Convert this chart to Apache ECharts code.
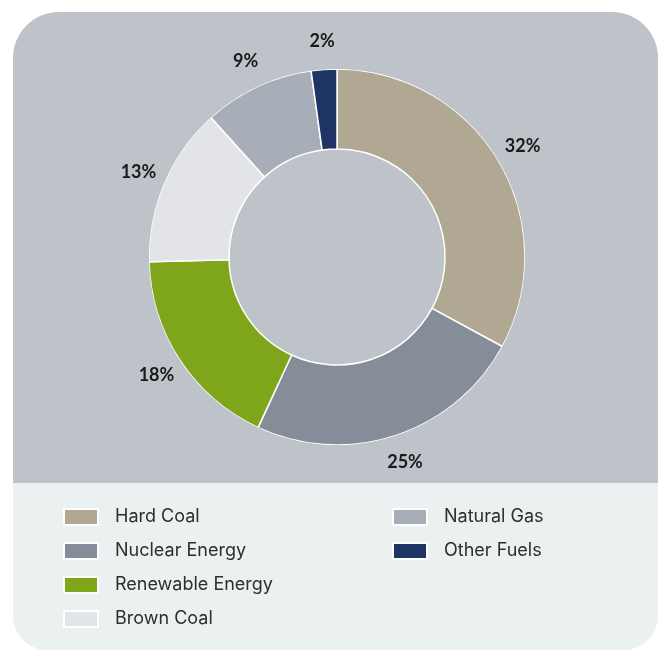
<!DOCTYPE html>
<html>
<head>
<meta charset="utf-8">
<script src="https://cdn.jsdelivr.net/npm/echarts@6/dist/echarts.min.js"></script>
<style>
  html, body { margin: 0; padding: 0; background: #fff; }
  #box {
    position: absolute; left: 13px; top: 12px; width: 645px; height: 638px;
    border-radius: 46px 46px 34px 34px; overflow: hidden; background: #ebf0f0;
  }
  #top { position: absolute; left: 0; top: 0; width: 100%; height: 471px; background: #bec3c9; }
  #chart { position: absolute; left: 0; top: 0; width: 662px; height: 653px; }
</style>
</head>
<body>
<div id="box"><div id="top"></div></div>
<div id="chart"></div>
<script>
// fuel mix shares (slice sizes), printed labels
var fuels = ['Hard Coal', 'Nuclear Energy', 'Renewable Energy', 'Brown Coal', 'Natural Gas', 'Other Fuels']
var shares = [32.9, 24.0, 17.7, 13.7, 9.5, 2.2]
var shareLabels = ['32%', '25%', '18%', '13%', '9%', '2%']
var colors = ['#b0a892', '#858e98', '#7fa51b', '#e3e4e7', '#a8aeb7', '#1e3464']

var myChart = echarts.init(document.getElementById('chart'))

var pieData = fuels.map(function (name, i) {
  return { name: name, value: shares[i] }
})

var legendText = { fontFamily: 'Inter', fontSize: 18, color: '#2e2e2e', padding: [0, 0, 0, 12] }

myChart.setOption({
  color: colors,
  animation: false,
  legend: [{
    data: fuels.slice(0, 4),
    orient: 'vertical',
    left: 63,
    top: 508,
    icon: 'rect',
    itemWidth: 34,
    itemHeight: 16,
    itemGap: 16,
    textStyle: legendText,
    padding: 0
  }, {
    data: fuels.slice(4),
    orient: 'vertical',
    left: 392,
    top: 508,
    icon: 'rect',
    itemWidth: 34,
    itemHeight: 16,
    itemGap: 16,
    textStyle: legendText,
    padding: 0
  }],
  series: [
    {
      type: 'pie',
      center: [337, 257],
      radius: [108, 188],
      startAngle: 90,
      clockwise: true,
      silent: true,
      itemStyle: { borderColor: '#fff', borderWidth: 1.5 },
      label: { show: false },
      labelLine: { show: false },
      data: pieData
    },
    {
      // invisible ring that only carries the percentage labels
      type: 'pie',
      center: [337, 257],
      radius: [196, 230],
      startAngle: 90,
      silent: true,
      itemStyle: { color: 'rgba(0,0,0,0)' },
      label: {
        show: true,
        position: 'inside',
        formatter: function (p) { return shareLabels[p.dataIndex] },
        fontFamily: 'Lato',
        fontWeight: 'bold',
        fontSize: 18,
        color: '#1a1a1a'
      },
      labelLine: { show: false },
      data: pieData
    },
    {
      // cover the white stroke on the outer edge
      type: 'pie',
      center: [337, 257],
      radius: [188, 190],
      silent: true,
      z: 5,
      itemStyle: { color: '#bec3c9' },
      label: { show: false },
      data: [{ value: 1, name: 'edge' }]
    }
  ]
})
</script>
</body>
</html>
